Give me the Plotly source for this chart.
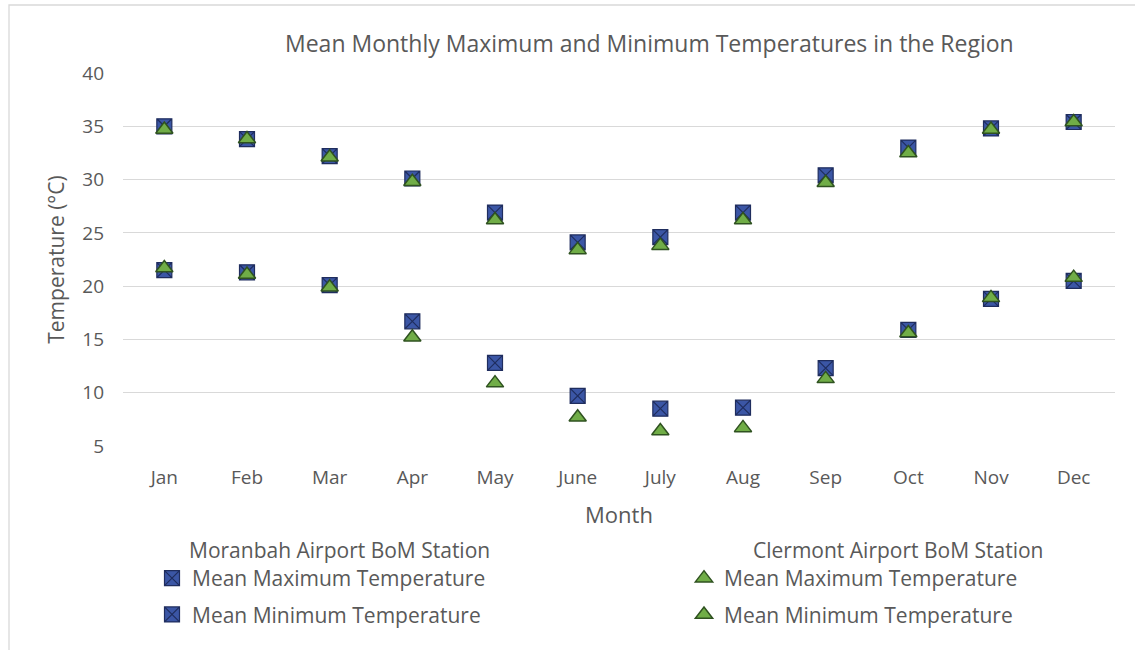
import plotly.graph_objects as go

months = ["Jan", "Feb", "Mar", "Apr", "May", "June", "July", "Aug", "Sep", "Oct", "Nov", "Dec"]
moranbah_max = [35.0, 33.8, 32.2, 30.1, 26.9, 24.1, 24.6, 26.9, 30.4, 33.0, 34.8, 35.4]
moranbah_min = [21.5, 21.3, 20.1, 16.7, 12.8, 9.7, 8.5, 8.6, 12.3, 15.9, 18.8, 20.5]
clermont_max = [34.7, 33.8, 32.1, 29.8, 26.2, 23.4, 23.8, 26.2, 29.7, 32.5, 34.7, 35.4]
clermont_min = [21.7, 21.1, 19.9, 15.2, 10.9, 7.7, 6.4, 6.7, 11.3, 15.6, 18.9, 20.8]
y_ticks = [5, 10, 15, 20, 25, 30, 35, 40]

FONT = "Open Sans"
TXT = "#595959"

sq = dict(symbol="square-x", size=15, color="#3B56A5", line=dict(color="#1F2D5E", width=1.2))
tri = dict(symbol="triangle-up", size=15, color="#70AD47", line=dict(color="#2F5220", width=1.5))

fig = go.Figure()
fig.add_trace(go.Scatter(x=months, y=moranbah_max, mode="markers", marker=sq,
                         name="Mean Maximum Temperature", legend="legend", legendgroup="a"))
fig.add_trace(go.Scatter(x=months, y=moranbah_min, mode="markers", marker=sq,
                         name="Mean Minimum Temperature", legend="legend", legendgroup="b"))
fig.add_trace(go.Scatter(x=months, y=clermont_max, mode="markers", marker=tri,
                         name="Mean Maximum Temperature", legend="legend2", legendgroup="c"))
fig.add_trace(go.Scatter(x=months, y=clermont_min, mode="markers", marker=tri,
                         name="Mean Minimum Temperature", legend="legend2", legendgroup="d"))

L, R, T, B = 123, 20, 73, 204
W, H = 1135, 650
pw, ph = W - L - R, H - T - B

def px(x):
    return (x - L) / pw

def py(y):
    return (H - B - y) / ph

leg_font = dict(size=21, color=TXT)

fig.update_layout(
    width=W, height=H,
    margin=dict(l=L, r=R, t=T, b=B, autoexpand=False),
    paper_bgcolor="white", plot_bgcolor="white",
    font=dict(family=FONT, color=TXT, size=19),
    xaxis=dict(type="category", range=[-0.5, 11.5], showgrid=False, showline=False,
               ticks="", tickfont=dict(size=19, color=TXT), ticklabelstandoff=18,
               title=dict(text="Month", font=dict(size=22, color=TXT), standoff=18)),
    yaxis=dict(range=[5, 40], tickvals=y_ticks, showgrid=True, gridcolor="#D9D9D9",
               gridwidth=1.3, zeroline=False, showline=False, ticks="",
               tickfont=dict(size=19, color=TXT), ticklabelstandoff=18,
               title=dict(text="Temperature (°C)", font=dict(size=21, color=TXT), standoff=11)),
    legend=dict(x=px(152), y=py(558), xanchor="left", yanchor="top", orientation="v",
                font=leg_font, bgcolor="rgba(0,0,0,0)", tracegroupgap=6, itemwidth=30),
    legend2=dict(x=px(684), y=py(558), xanchor="left", yanchor="top", orientation="v",
                 font=leg_font, bgcolor="rgba(0,0,0,0)", tracegroupgap=6, itemwidth=30),
    showlegend=True,
    annotations=[
        dict(text="Mean Monthly Maximum and Minimum Temperatures in the Region",
             x=px(649), y=py(43), xref="paper", yref="paper", showarrow=False,
             xanchor="center", yanchor="middle", font=dict(size=23, color=TXT)),
        dict(text="Moranbah Airport BoM Station", x=px(339), y=py(550), xref="paper", yref="paper",
             showarrow=False, xanchor="center", yanchor="middle", font=leg_font),
        dict(text="Clermont Airport BoM Station", x=px(898), y=py(550), xref="paper", yref="paper",
             showarrow=False, xanchor="center", yanchor="middle", font=leg_font),
    ],
    shapes=[
        dict(type="rect", xref="paper", yref="paper", x0=px(9), x1=px(1145), y0=py(660), y1=py(5),
             line=dict(color="#D9D9D9", width=1.3), fillcolor="rgba(0,0,0,0)", layer="below"),
    ],
)

fig.write_html("out.html", config={"displayModeBar": False},
               post_script="document.body.style.margin='0px';")
